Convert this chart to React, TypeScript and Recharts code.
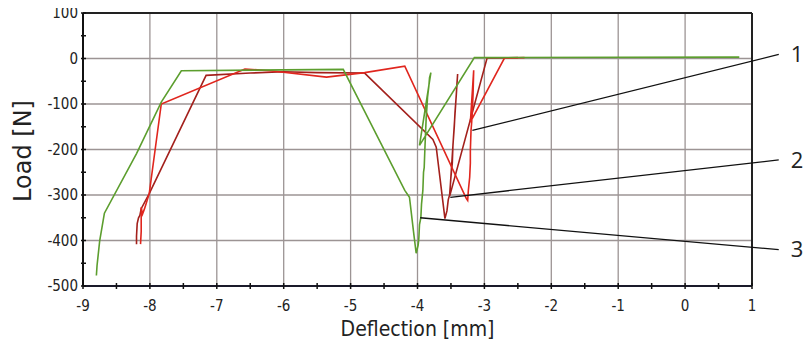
import { LineChart, Line, XAxis, YAxis, ReferenceLine, ReferenceDot, Label } from 'recharts';

// deflection [mm] / load [N] pairs
const curve1: [number, number][] = [
  [-8.14, -408], [-8.13, -380], [-8.13, -327], [-8.11, -342], [-8.08, -330], [-8.01, -297],
  [-7.83, -100], [-6.58, -23], [-6.2, -27], [-5.36, -41], [-4.79, -31], [-4.19, -17],
  [-3.27, -308], [-3.25, -312], [-3.24, -290], [-3.22, -261], [-3.21, -230], [-3.21, -202],
  [-3.2, -158], [-3.19, -140], [-3.18, -114], [-3.17, -80], [-3.16, -26], [-3.21, -140],
  [-2.7, 1], [-2.4, 2],
];

const curve2: [number, number][] = [
  [-8.2, -408], [-8.2, -390], [-8.19, -363], [-8.17, -350], [-8.15, -345], [-8.13, -330],
  [-8.01, -297], [-7.16, -37], [-6.5, -32], [-6.0, -29], [-5.5, -31], [-4.79, -32],
  [-3.77, -178], [-3.72, -195], [-3.59, -352], [-3.56, -335], [-3.54, -310], [-3.52, -300],
  [-3.5, -260], [-3.48, -230], [-3.47, -190], [-3.45, -150], [-3.44, -120], [-3.42, -80],
  [-3.41, -55], [-3.4, -34], [-3.52, -303], [-2.96, 1], [-2.5, 2],
];

const curve3: [number, number][] = [
  [-8.8, -477], [-8.79, -455], [-8.75, -400], [-8.68, -340], [-8.2, -209], [-7.83, -96],
  [-7.53, -27], [-5.11, -24], [-4.19, -290], [-4.12, -305], [-4.06, -380], [-4.02, -428],
  [-3.99, -410], [-3.98, -395], [-3.97, -365], [-3.95, -350], [-3.94, -320], [-3.92, -290],
  [-3.91, -250], [-3.9, -240], [-3.89, -200], [-3.88, -165], [-3.87, -130], [-3.86, -110],
  [-3.85, -85], [-3.83, -60], [-3.82, -42], [-3.8, -31], [-3.97, -191], [-3.15, 2], [0.81, 3],
];

const leaderNames = ['1', '2', '3'];
const leaderFrom: [number, number][] = [[-3.18, -158], [-3.51, -305], [-3.96, -350]];
const leaderTo: [number, number][] = [[1.4, 9], [1.4, -223], [1.4, -420]];

const xTicks = [-9, -8.5, -8, -7.5, -7, -6.5, -6, -5.5, -5, -4.5, -4, -3.5, -3, -2.5, -2, -1.5, -1, -0.5, 0, 0.5, 1];
const yTicks = [-500, -450, -400, -350, -300, -250, -200, -150, -100, -50, 0, 50, 100];
const gridX = [-8, -7, -6, -5, -4, -3, -2, -1, 0];
const gridY = [0, -100, -200, -300, -400];

const toPts = (c: [number, number][]) => c.map(([x, y]) => ({ x, y }));

const tickFont = "'DejaVu Sans Condensed', 'Open Sans', sans-serif";

function XTick(props: any) {
  const { x, y, payload } = props;
  const v = payload.value;
  return (
    <g>
      <line x1={x} x2={x} y1={y - 3} y2={y + 3} stroke="#111" strokeWidth={1.5} />
      {Number.isInteger(v) && (
        <text x={x} y={y + 25} textAnchor="middle" fontSize={15} fontFamily={tickFont} fill="#222">
          {v}
        </text>
      )}
    </g>
  );
}

function YTick(props: any) {
  const { x, y, payload } = props;
  const v = payload.value;
  return (
    <g>
      <line x1={x - 2} x2={x + 3} y1={y} y2={y} stroke="#111" strokeWidth={1.5} />
      {v % 100 === 0 && (
        <text x={x - 5} y={y + 5} textAnchor="end" fontSize={15} fontFamily={tickFont} fill="#222">
          {v}
        </text>
      )}
    </g>
  );
}

export default function App() {
  return (
    <div style={{ marginTop: -4, height: 335 }}>
      <LineChart width={795} height={343} margin={{ top: 9, right: 51, left: 0, bottom: 0 }} style={{ overflow: 'visible' }}>
        <XAxis
          type="number"
          dataKey="x"
          domain={[-9, 1]}
          ticks={xTicks}
          interval={0}
          height={61}
          tickSize={0}
          tickMargin={0}
          tick={<XTick />}
          axisLine={{ stroke: '#1a1a2a', strokeWidth: 2 }}
          tickLine={false}
        >
          <Label
            content={(p: any) => (
              <text
                x={p.viewBox.x + p.viewBox.width / 2}
                y={p.viewBox.y + 50}
                textAnchor="middle"
                fontSize={21}
                fontFamily={tickFont}
                fill="#222"
              >
                Deflection [mm]
              </text>
            )}
          />
        </XAxis>
        <YAxis
          type="number"
          domain={[-500, 100]}
          ticks={yTicks}
          interval={0}
          width={75}
          tickSize={0}
          tickMargin={0}
          tick={<YTick />}
          axisLine={{ stroke: '#111', strokeWidth: 2 }}
          tickLine={false}
        >
          <Label
            content={() => (
              <text
                x={15}
                y={147}
                transform="rotate(-90, 15, 147)"
                textAnchor="middle"
                dominantBaseline="central"
                fontSize={24}
                fontFamily="'DejaVu Sans', sans-serif"
                fill="#222"
              >
                Load [N]
              </text>
            )}
          />
        </YAxis>
        {gridX.map((v) => (
          <ReferenceLine key={`gx${v}`} x={v} stroke="#9c9494" strokeWidth={1.3} />
        ))}
        {gridY.map((v) => (
          <ReferenceLine key={`gy${v}`} y={v} stroke="#9c9494" strokeWidth={1.3} />
        ))}
        <ReferenceLine y={100} stroke="#222" strokeWidth={2} />
        <ReferenceLine x={1} stroke="#222" strokeWidth={2} />
        <Line data={toPts(curve2)} dataKey="y" stroke="#a3201c" strokeWidth={1.6} dot={false} isAnimationActive={false} />
        <Line data={toPts(curve1)} dataKey="y" stroke="#e0261e" strokeWidth={1.6} dot={false} isAnimationActive={false} />
        <Line data={toPts(curve3)} dataKey="y" stroke="#5c9e2e" strokeWidth={1.6} dot={false} isAnimationActive={false} />
        {leaderNames.map((n, i) => (
          <ReferenceLine
            key={`l${n}`}
            segment={[
              { x: leaderFrom[i][0], y: leaderFrom[i][1] },
              { x: leaderTo[i][0], y: leaderTo[i][1] },
            ]}
            stroke="#111"
            strokeWidth={1.3}
            ifOverflow="visible"
          />
        ))}
        {leaderNames.map((n, i) => (
          <ReferenceDot
            key={`d${n}`}
            x={leaderTo[i][0]}
            y={leaderTo[i][1]}
            r={0}
            ifOverflow="visible"
            label={{ value: n, position: 'right', offset: 12, fontSize: 22, fill: '#222', fontFamily: "'Open Sans', sans-serif" }}
          />
        ))}
      </LineChart>
    </div>
  );
}
